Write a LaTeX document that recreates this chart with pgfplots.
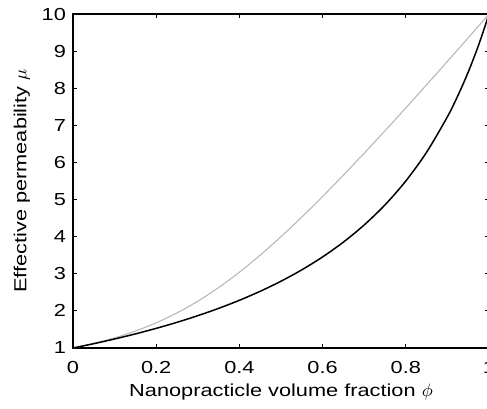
\documentclass[border=0pt]{standalone}
\usepackage{pgfplots}
\pgfplotsset{compat=1.18}
\usepackage{fontspec}
\setmainfont{Liberation Sans}[FakeStretch=1.25]
\begin{document}
\begin{tikzpicture}
\begin{axis}[
  at={(36.5pt,30pt)}, anchor=south west,
  scale only axis, width=208pt, height=167pt,
  xmin=0, xmax=1, ymin=1, ymax=10,
  xtick={0,0.2,0.4,0.6,0.8,1}, ytick={1,2,...,10},
  xticklabels={0,0.2,0.4,0.6,0.8,1},
  tick align=inside, major tick length=2pt,
  tick style={black, line width=0.5pt},
  axis line style={line width=0.8pt},
  /pgf/number format/assume math mode=true,
  tick label style={font=\fontsize{8.7}{10}\selectfont},
  xticklabel style={yshift=-3pt},
  label style={font=\fontsize{8.7}{10}\selectfont},
  xlabel={Nanopracticle volume fraction $\phi$},
  ylabel={Effective permeability $\mu$},
  xlabel style={yshift=1.5pt},
  ylabel style={yshift=-1pt},
  clip=false,
]
\addplot[color=black!28, line width=0.55pt, smooth] coordinates {
(0,1) (0.05,1.1239) (0.10,1.2741) (0.15,1.4569) (0.20,1.6786) (0.25,1.9453)
(0.30,2.2612) (0.35,2.6278) (0.40,3.0431) (0.45,3.5026) (0.50,4.0)
(0.55,4.529) (0.60,5.0836) (0.65,5.6586) (0.70,6.25) (0.75,6.8545)
(0.80,7.4694) (0.85,8.0928) (0.90,8.7232) (0.925,9.0405) (0.95,9.3592) (0.975,9.679) (1.0,10)
};
\addplot[color=black, line width=0.75pt, smooth] coordinates {
(0,1) (0.05,1.1169) (0.10,1.2432) (0.15,1.3803) (0.20,1.5294) (0.25,1.6923)
(0.30,1.8710) (0.35,2.0678) (0.40,2.2857) (0.45,2.5283) (0.50,2.8)
(0.55,3.1064) (0.60,3.4545) (0.65,3.8537) (0.70,4.3158) (0.75,4.8571)
(0.80,5.5) (0.85,6.2759) (0.90,7.2308) (0.925,7.7959) (0.95,8.4348) (0.975,9.1628) (1.0,10)
};
\end{axis}
\pgfresetboundingbox
\path[use as bounding box] (0,0) rectangle (243.5pt,204pt);
\end{tikzpicture}
\end{document}
